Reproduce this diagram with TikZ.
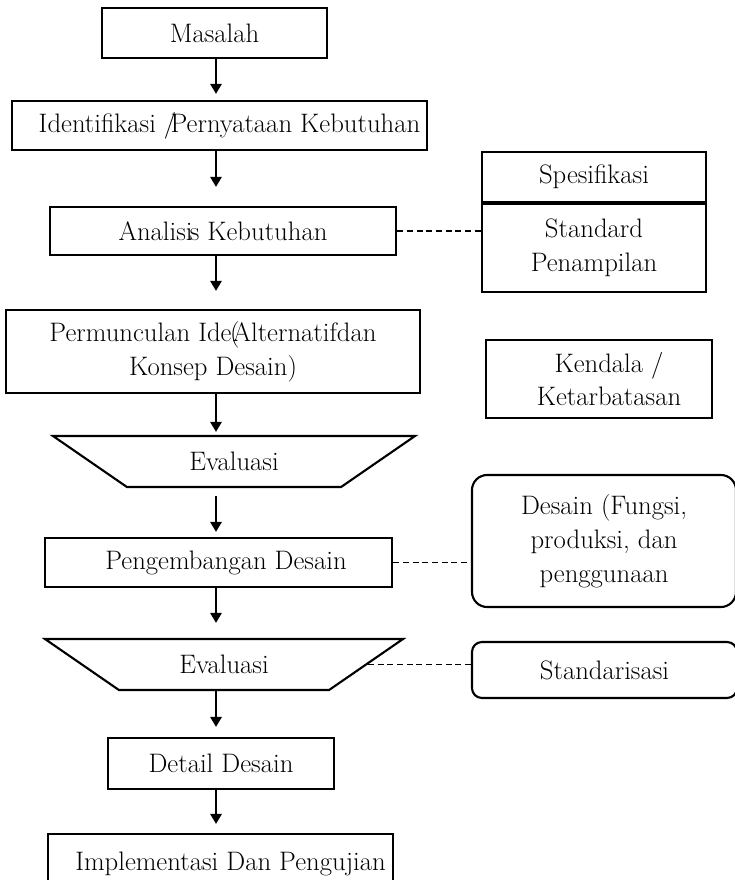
\documentclass[tikz,border=0pt]{standalone}
\usepackage{tikz}
\usetikzlibrary{arrows.meta,positioning,shapes.geometric}
\tikzset{
  box/.style={draw, line width=1.5pt, align=center, inner sep=2pt, fill=white, font=\fontsize{19}{24}\selectfont},
  rbox/.style={box, rounded corners=0.38cm},
  evalbox/.style={box, trapezium, trapezium stretches body, shape border rotate=180, trapezium angle=34.6, text height=0.8cm, text depth=0.335cm},
  arrow/.style={-{Triangle[length=2.5mm,width=2.8mm]}, line width=1.6pt},
  link/.style={line width=1.2pt, dash pattern=on 4.3pt off 2.6pt}
}

\begin{document}
\begin{tikzpicture}[x=0.025cm, y=-0.025cm]
\useasboundingbox (0,0) rectangle (735,880);
\clip (0,0) rectangle (735,880);
\coordinate (col) at (216,0);
\node[box, minimum width=5.625cm, minimum height=1.25cm] (masalah) at (214.5,33) {Masalah};
\node[box, minimum width=10.375cm, minimum height=1.225cm] (ident) at (219.5,125.5) {\hspace{0.5cm}Identifikasi /\kern-4pt Pernyataan Kebutuhan};
\node[box, minimum width=8.65cm, minimum height=1.2cm] (analisis) at (223,231) {Analisi\kern-2pt s Kebutuhan};
\node[box, minimum width=5.6cm, minimum height=1.25cm] (spes) at (594,177) {Spesifikasi};
\node[box, minimum width=5.6cm, minimum height=2.2cm, below=0pt of spes] (standard) {Standard\\Penampilan};
\node[box, minimum width=10.35cm, minimum height=2.075cm] (ide) at (213,351.5) {Permunculan Ide\kern-1pt(\kern-5pt Alternatifdan\\Konsep Desain)};
\node[box, minimum width=5.65cm, minimum height=1.95cm] (kendala) at (599,379) {\hspace{0.5cm}Kendala /\\\hspace{0.5cm}Ketarbatasan};
\node[evalbox, minimum width=9.05cm] (eval1) at (234,461.5) {Evaluasi};
\node[box, minimum width=8.675cm, minimum height=1.225cm] (kembang) at (218.5,562.5) {\hspace{0.375cm}Pengembangan Desain};
\node[rbox, minimum width=6.6cm, minimum height=3.3cm] (fungsi) at (604,541) {Desain (Fungsi,\\produksi, dan\\penggunaan};
\node[evalbox, minimum width=8.95cm] (eval2) at (224,664.5) {Evaluasi};
\node[box, rounded corners=0.25cm, minimum width=6.625cm, minimum height=1.4cm] (standar) at (604.5,670) {Standarisasi};
\node[box, minimum width=5.65cm, minimum height=1.275cm] (detail) at (221,763.5) {Detail Desain};
\node[box, minimum width=8.625cm, minimum height=1.5cm] (uji) at (220.5,864) {\hspace{0.5cm}Implementasi Dan Pengujian};
\draw[line width=2.8pt] (spes.south west) -- (spes.south east);
\draw[arrow, shorten >=0.15cm] (masalah.south -| col) -- (ident.north -| col);
\draw[arrow, shorten >=0.475cm] (ident.south -| col) -- (analisis.north -| col);
\draw[arrow, shorten >=0.45cm] (analisis.south -| col) -- (ide.north -| col);
\draw[arrow, shorten >=0.075cm] (ide.south -| col) -- (eval1.north -| col);
\draw[arrow, shorten <=0.2cm, shorten >=0.125cm] (eval1.south -| col) -- (kembang.north -| col);
\draw[arrow, shorten >=0.375cm] (kembang.south -| col) -- (eval2.north -| col);
\draw[arrow, shorten >=0.25cm] (eval2.south -| col) -- (detail.north -| col);
\draw[arrow, shorten >=0.225cm] (detail.south -| col) -- (uji.north -| col);
\draw[link] (analisis.east) -- (analisis.east -| standard.west);
\draw[link] (kembang.east) -- (kembang.east -| fungsi.west);
\draw[link] (eval2.east) -- (eval2.east -| standar.west);
\end{tikzpicture}
\end{document}
